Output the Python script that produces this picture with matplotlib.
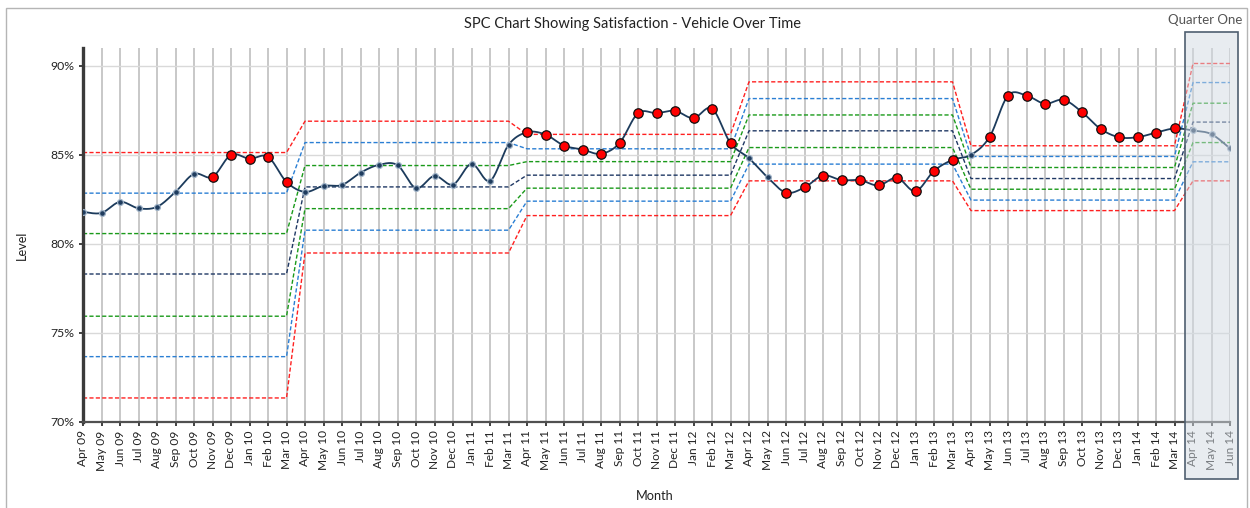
import numpy as np
import matplotlib
matplotlib.use("Agg")
import matplotlib.pyplot as plt
from matplotlib.patches import Rectangle

plt.rcParams['font.family'] = ['Lato', 'DejaVu Sans']

# ---------------- data ----------------
months = ["Apr 09", "May 09", "Jun 09", "Jul 09", "Aug 09", "Sep 09", "Oct 09", "Nov 09", "Dec 09",
          "Jan 10", "Feb 10", "Mar 10", "Apr 10", "May 10", "Jun 10", "Jul 10", "Aug 10", "Sep 10",
          "Oct 10", "Nov 10", "Dec 10", "Jan 11", "Feb 11", "Mar 11", "Apr 11", "May 11", "Jun 11",
          "Jul 11", "Aug 11", "Sep 11", "Oct 11", "Nov 11", "Dec 11", "Jan 12", "Feb 12", "Mar 12",
          "Apr 12", "May 12", "Jun 12", "Jul 12", "Aug 12", "Sep 12", "Oct 12", "Nov 12", "Dec 12",
          "Jan 13", "Feb 13", "Mar 13", "Apr 13", "May 13", "Jun 13", "Jul 13", "Aug 13", "Sep 13",
          "Oct 13", "Nov 13", "Dec 13", "Jan 14", "Feb 14", "Mar 14", "Apr 14", "May 14", "Jun 14"]

level = [81.80, 81.74, 82.36, 82.00, 82.08, 82.92, 83.93, 83.76, 85.00, 84.78, 84.89, 83.48,
         82.92, 83.26, 83.31, 84.00, 84.44, 84.42, 83.13, 83.82, 83.33, 84.49, 83.54, 85.56,
         86.27, 86.14, 85.52, 85.30, 85.06, 85.66, 87.34, 87.34, 87.47, 87.06, 87.60, 85.66,
         84.81, 83.74, 82.88, 83.17, 83.84, 83.58, 83.58, 83.28, 83.71, 82.96, 84.10, 84.72,
         85.00, 86.00, 88.33, 88.33, 87.87, 88.09, 87.40, 86.46, 85.99, 85.99, 86.25, 86.48,
         86.37, 86.16, 85.36]

# special-cause flags (red markers)
flagged = [0, 0, 0, 0, 0, 0, 0, 1, 1, 1, 1, 1,
           0, 0, 0, 0, 0, 0, 0, 0, 0, 0, 0, 0,
           1, 1, 1, 1, 1, 1, 1, 1, 1, 1, 1, 1,
           0, 0, 1, 1, 1, 1, 1, 1, 1, 1, 1, 1,
           0, 1, 1, 1, 1, 1, 1, 1, 1, 1, 1, 1,
           0, 0, 0]

# control-limit periods (number of months in each)
period_lengths = [12, 12, 12, 12, 12, 3]
ucl    = [85.13, 86.89, 86.15, 89.10, 85.51, 90.13]
upper2 = [82.85, 85.69, 85.34, 88.16, 84.91, 89.06]
upper1 = [80.58, 84.40, 84.62, 87.24, 84.29, 87.90]
mean   = [78.31, 83.20, 83.86, 86.35, 83.67, 86.84]
lower1 = [75.94, 81.98, 83.13, 85.41, 83.07, 85.69]
lower2 = [73.67, 80.77, 82.40, 84.48, 82.46, 84.61]
lcl    = [71.35, 79.49, 81.59, 83.54, 81.87, 83.54]

y_ticks = [70, 75, 80, 85, 90]

# ---------------- figure ----------------
W, H = 1250, 508
fig = plt.figure(figsize=(W / 100, H / 100), dpi=100)
fig.patch.set_facecolor('white')

def px(x0, y0, x1, y1):
    return [x0 / W, 1 - y1 / H, (x1 - x0) / W, (y1 - y0) / H]

ax = fig.add_axes(px(83, 48, 1230, 422))
x = np.arange(len(months))

# grid
ax.set_xlim(0, len(months) - 1)
ax.set_ylim(70, 91.0)
ax.set_xticks(x)
ax.set_xticklabels(months, rotation=90, fontsize=8.6, color='#222222')
ax.set_yticks(y_ticks)
ax.set_yticklabels([f"{v}%" for v in y_ticks], fontsize=8.8, color='#222222')
for xi in x:
    ax.axvline(xi, color='#c8c8c8', lw=1.4, zorder=0)
for yv in y_ticks:
    ax.axhline(yv, color='#d9d9d9', lw=1.0, zorder=0)

for s in ['top', 'right']:
    ax.spines[s].set_visible(False)
ax.spines['left'].set_color('#3a3a3a')
ax.spines['left'].set_linewidth(2.4)
ax.spines['bottom'].set_color('#505050')
ax.spines['bottom'].set_linewidth(1.6)
ax.tick_params(axis='both', direction='out', length=3, width=1.4, color='#404040', pad=3)

# control limit lines
def expand(vals):
    out = []
    for v, n in zip(vals, period_lengths):
        out += [v] * n
    return np.array(out)

limit_styles = [
    (ucl, '#ff2020'), (upper2, '#2a7fd4'), (upper1, '#1a9a1a'), (mean, '#1f3864'),
    (lower1, '#1a9a1a'), (lower2, '#2a7fd4'), (lcl, '#ff2020'),
]
for vals, col in limit_styles:
    ax.plot(x, expand(vals), color=col, lw=1.0, dashes=(3, 1.6), zorder=2)

# smoothed data line (Excel-style Bezier smoothing)
pts = np.column_stack([x, level]).astype(float)
curve = []
n = len(pts)
for i in range(n - 1):
    p0 = pts[max(i - 1, 0)]
    p1 = pts[i]
    p2 = pts[i + 1]
    p3 = pts[min(i + 2, n - 1)]
    c1 = p1 + (p2 - p0) / 6.0
    c2 = p2 - (p3 - p1) / 6.0
    t = np.linspace(0, 1, 20)[:, None]
    seg = ((1 - t) ** 3) * p1 + 3 * ((1 - t) ** 2) * t * c1 + 3 * (1 - t) * t ** 2 * c2 + t ** 3 * p2
    curve.append(seg if i == 0 else seg[1:])
curve = np.vstack(curve)
ax.plot(curve[:, 0], curve[:, 1], color='#1c3b5c', lw=1.3, zorder=4, solid_capstyle='round')

lv = np.array(level)
fl = np.array(flagged, dtype=bool)
ax.plot(x[~fl], lv[~fl], ls='none', marker='o', ms=4.2, mfc='#1f3c5e', mec='#9fb2c6',
        mew=0.9, zorder=5)
ax.plot(x[fl], lv[fl], ls='none', marker='o', ms=6.8, mfc='#ff0000', mec='#111111',
        mew=0.9, zorder=6)

# labels
fig.text(632 / W, 1 - 24 / H, "SPC Chart Showing Satisfaction - Vehicle Over Time",
         ha='center', va='center', fontsize=10.5, color='#222222')
fig.text(22 / W, 1 - 245 / H, "Level", ha='center', va='center', rotation=90,
         fontsize=9.2, color='#222222')
fig.text(655 / W, 1 - 496 / H, "Month", ha='center', va='center', fontsize=9.2, color='#222222')
fig.text(1205 / W, 1 - 20 / H, "Quarter One", ha='center', va='center', fontsize=9.5,
         color='#555555')

# highlight box for the latest quarter
box = Rectangle((1185 / W, 1 - 479 / H), 53 / W, 447 / H, transform=fig.transFigure,
                facecolor='#d3dbe3', alpha=0.5, edgecolor='none', zorder=10)
fig.add_artist(box)
box_edge = Rectangle((1185 / W, 1 - 479 / H), 53 / W, 447 / H, transform=fig.transFigure,
                     facecolor='none', edgecolor='#4f5f70', lw=1.2, zorder=11)
fig.add_artist(box_edge)

# outer chart border
border = Rectangle((6 / W, -0.01), 1241 / W, 1 - 8 / H + 0.01, transform=fig.transFigure,
                   facecolor='none', edgecolor='#b5b5b5', lw=1.0, zorder=12)
fig.add_artist(border)

fig.savefig("out.png", dpi=100)
